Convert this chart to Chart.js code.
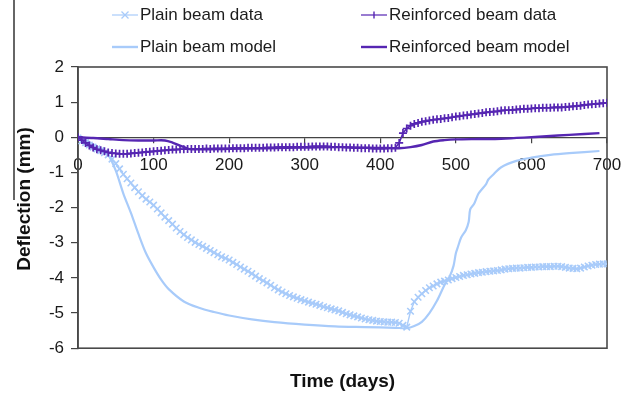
<!DOCTYPE html>
<html>
<head>
<meta charset="utf-8">
<script src="https://cdn.jsdelivr.net/npm/chart.js@4.4.1/dist/chart.umd.min.js"></script>
<style>
  html, body { margin: 0; padding: 0; background: #fff; }
  #wrap { position: relative; width: 635px; height: 397px; }
  #legend { position: absolute; left: 0; top: 0; width: 635px; height: 62px;
            font: 17px "Liberation Sans", Arial, sans-serif; color: #1c1c1c; }
  .item { position: absolute; display: flex; align-items: center; height: 20px; white-space: nowrap; }
  .item svg { margin-right: 2px; flex: none; }
</style>
</head>
<body>
<div id="wrap">
  <canvas id="c" width="635" height="397"></canvas>
  <div id="legend"></div>
</div>
<script>
// Measured mid-span deflection of the two beams over time.
const dataDays = [
  0, 5, 10, 15, 20, 25, 30, 35, 40, 45, 50, 55, 60, 65, 70, 75, 80, 85, 90, 95,
  100, 105, 110, 115, 120, 125, 130, 135, 140, 145, 150, 155, 160, 165, 170, 175, 180, 185, 190, 195,
  200, 205, 210, 215, 220, 225, 230, 235, 240, 245, 250, 255, 260, 265, 270, 275, 280, 285, 290, 295,
  300, 305, 310, 315, 320, 325, 330, 335, 340, 345, 350, 355, 360, 365, 370, 375, 380, 385, 390, 395,
  400, 405, 410, 415, 420, 425, 430, 435, 440, 445, 450, 455, 460, 465, 470, 475, 480, 485, 490, 495,
  500, 505, 510, 515, 520, 525, 530, 535, 540, 545, 550, 555, 560, 565, 570, 575, 580, 585, 590, 595,
  600, 605, 610, 615, 620, 625, 630, 635, 640, 645, 650, 655, 660, 665, 670, 675, 680, 685, 690, 695, 700
];
const plainData = [
  -0.02, -0.10, -0.15, -0.22, -0.28, -0.33, -0.38, -0.44, -0.50, -0.62, -0.75, -0.90, -1.05, -1.18, -1.30, -1.43, -1.55, -1.66, -1.76, -1.84,
  -1.93, -2.04, -2.15, -2.27, -2.37, -2.47, -2.58, -2.68, -2.77, -2.85, -2.92, -2.99, -3.05, -3.10, -3.16, -3.22, -3.28, -3.34, -3.40, -3.44,
  -3.49, -3.56, -3.62, -3.69, -3.75, -3.81, -3.88, -3.95, -4.02, -4.08, -4.14, -4.21, -4.28, -4.34, -4.40, -4.45, -4.50, -4.54, -4.58, -4.62,
  -4.65, -4.69, -4.72, -4.75, -4.78, -4.82, -4.85, -4.88, -4.91, -4.94, -4.98, -5.02, -5.05, -5.08, -5.11, -5.14, -5.17, -5.19, -5.21, -5.23,
  -5.24, -5.25, -5.26, -5.26, -5.27, -5.29, -5.35, -5.40, -4.95, -4.68, -4.55, -4.45, -4.36, -4.28, -4.23, -4.17, -4.12, -4.09, -4.06, -4.02,
  -3.99, -3.96, -3.93, -3.91, -3.89, -3.87, -3.85, -3.84, -3.82, -3.81, -3.80, -3.79, -3.77, -3.75, -3.74, -3.73, -3.72, -3.72, -3.71, -3.70,
  -3.70, -3.69, -3.69, -3.68, -3.68, -3.68, -3.67, -3.67, -3.68, -3.70, -3.72, -3.73, -3.74, -3.72, -3.69, -3.66, -3.64, -3.62, -3.61, -3.60, -3.60
];
const reinforcedData = [
  0.00, -0.08, -0.16, -0.23, -0.29, -0.34, -0.37, -0.40, -0.43, -0.45, -0.46, -0.47, -0.47, -0.47, -0.46, -0.45, -0.44, -0.43, -0.42, -0.41,
  -0.40, -0.39, -0.38, -0.37, -0.36, -0.35, -0.35, -0.34, -0.34, -0.33, -0.33, -0.33, -0.33, -0.33, -0.32, -0.33, -0.32, -0.32, -0.32, -0.32,
  -0.32, -0.31, -0.31, -0.31, -0.31, -0.30, -0.30, -0.30, -0.30, -0.30, -0.29, -0.29, -0.29, -0.28, -0.28, -0.28, -0.28, -0.28, -0.27, -0.27,
  -0.27, -0.27, -0.26, -0.26, -0.26, -0.26, -0.26, -0.27, -0.27, -0.28, -0.28, -0.29, -0.29, -0.30, -0.30, -0.31, -0.31, -0.31, -0.32, -0.32,
  -0.32, -0.32, -0.31, -0.31, -0.30, -0.16, 0.12, 0.25, 0.33, 0.38, 0.41, 0.44, 0.46, 0.48, 0.50, 0.51, 0.52, 0.54, 0.55, 0.57,
  0.59, 0.60, 0.62, 0.63, 0.65, 0.66, 0.68, 0.69, 0.71, 0.72, 0.73, 0.74, 0.76, 0.77, 0.77, 0.78, 0.79, 0.80, 0.81, 0.81,
  0.82, 0.83, 0.83, 0.84, 0.84, 0.84, 0.85, 0.85, 0.85, 0.86, 0.87, 0.88, 0.89, 0.90, 0.92, 0.93, 0.94, 0.95, 0.96, 0.97, 0.98
];

// Model predictions.
const plainModelDays = [
  0, 10, 20, 30, 40, 50, 60, 70, 80, 90, 100, 110, 120, 140, 160, 180, 200, 230, 260, 300,
  340, 380, 420, 435, 445, 455, 465, 475, 485, 492, 497, 500, 503, 507, 513, 517, 519, 524, 530, 540,
  543, 550, 560, 580, 600, 625, 650, 690
];
const plainModel = [
  0, -0.08, -0.20, -0.32, -0.50, -0.95, -1.60, -2.15, -2.75, -3.30, -3.70, -4.05, -4.32, -4.67, -4.85, -4.97, -5.07, -5.18, -5.26, -5.33,
  -5.38, -5.40, -5.42, -5.43, -5.37, -5.25, -5.00, -4.65, -4.20, -3.95, -3.65, -3.30, -3.10, -2.85, -2.65, -2.40, -2.05, -1.90, -1.60, -1.33,
  -1.20, -1.05, -0.85, -0.67, -0.58, -0.50, -0.45, -0.39
];
const reinforcedModelDays = [
  0, 20, 40, 60, 80, 100, 115, 125, 135, 145, 150, 200, 250, 300, 350, 400, 425, 440, 455, 470,
  485, 500, 530, 560, 590, 620, 650, 690
];
const reinforcedModel = [
  0, -0.02, -0.05, -0.08, -0.09, -0.09, -0.09, -0.15, -0.24, -0.32, -0.34, -0.33, -0.31, -0.29, -0.28, -0.30, -0.31, -0.28, -0.22, -0.12,
  -0.08, -0.06, -0.05, -0.04, -0.01, 0.03, 0.07, 0.12
];

const xTicks = [0, 100, 200, 300, 400, 500, 600, 700];
const yTicks = [2, 1, 0, -1, -2, -3, -4, -5, -6];

const PLAIN = 'rgb(168, 203, 250)';
const REINF = 'rgb(86, 38, 178)';
const FONT = '"Liberation Sans", Arial, sans-serif';

const pairs = (xs, ys) => xs.map((x, i) => ({ x: x, y: ys[i] }));

const datasets = [
  { label: 'Plain beam model', data: pairs(plainModelDays, plainModel),
    borderColor: PLAIN, borderWidth: 2.2, pointRadius: 0, tension: 0.3, order: 4 },
  { label: 'Plain beam data', data: pairs(dataDays, plainData),
    borderColor: PLAIN, backgroundColor: PLAIN, borderWidth: 1.4, pointStyle: 'crossRot',
    pointRadius: 4.6, pointBorderWidth: 1.6, pointBorderColor: PLAIN, order: 3 },
  { label: 'Reinforced beam model', data: pairs(reinforcedModelDays, reinforcedModel),
    borderColor: REINF, borderWidth: 2.4, pointRadius: 0, tension: 0.3, order: 2 },
  { label: 'Reinforced beam data', data: pairs(dataDays, reinforcedData),
    borderColor: REINF, backgroundColor: REINF, borderWidth: 1.6, pointStyle: 'cross',
    pointRadius: 4, pointBorderWidth: 1.7, pointBorderColor: REINF, order: 1 }
];

// Box around the plotting area, the y-axis title and a thin margin rule.
const framePlugin = {
  id: 'frame',
  beforeDatasetsDraw(chart) {
    const { ctx, chartArea: a } = chart;
    ctx.save();
    ctx.strokeStyle = '#4a4a4a';
    ctx.lineWidth = 1.6;
    ctx.strokeRect(a.left, a.top, a.right - a.left, a.bottom - a.top);
    ctx.restore();
  },
  afterDraw(chart) {
    const { ctx } = chart;
    ctx.save();
    ctx.strokeStyle = '#333';
    ctx.lineWidth = 1.5;
    ctx.beginPath();
    ctx.moveTo(14, 0);
    ctx.lineTo(14, 200);
    ctx.stroke();
    ctx.translate(25, 199);
    ctx.rotate(-Math.PI / 2);
    ctx.font = 'bold 19px ' + FONT;
    ctx.fillStyle = '#111';
    ctx.textAlign = 'center';
    ctx.textBaseline = 'middle';
    ctx.fillText('Deflection (mm)', 0, 0);
    ctx.restore();
  }
};

const chart = new Chart(document.getElementById('c'), {
  type: 'line',
  data: { datasets },
  plugins: [framePlugin],
  options: {
    responsive: false,
    animation: false,
    devicePixelRatio: 1,
    layout: { padding: { top: 67, right: 28, bottom: 0, left: 0 } },
    plugins: {
      legend: { display: false },
      tooltip: { enabled: false },
      title: {
        display: true, position: 'bottom', fullSize: false, text: 'Time (days)',
        color: '#111', font: { family: FONT, size: 19, weight: 'bold' },
        padding: { top: 22, bottom: 4 }
      }
    },
    scales: {
      x: {
        type: 'linear', position: { y: 0 }, min: 0, max: 700,
        afterBuildTicks(scale) { scale.ticks = xTicks.map(v => ({ value: v })); },
        ticks: { color: '#1a1a1a', font: { family: FONT, size: 17 }, padding: 13, maxRotation: 0 },
        grid: { drawOnChartArea: false, drawTicks: true, tickLength: 5, color: '#444', lineWidth: 1.2 },
        border: { display: true, color: '#444', width: 1.2 }
      },
      y: {
        type: 'linear', position: 'left', min: -6, max: 2,
        afterBuildTicks(scale) { scale.ticks = yTicks.map(v => ({ value: v })); },
        afterFit(scale) { scale.width = 78; },
        ticks: { color: '#1a1a1a', font: { family: FONT, size: 17 }, padding: 7 },
        grid: { drawOnChartArea: false, drawTicks: true, tickLength: 7, color: '#444', lineWidth: 1.2 },
        border: { display: true, color: '#444', width: 1.6 }
      }
    }
  }
});

// Two-column legend built from the datasets.
const legendSlots = {
  'Plain beam data': [112, 5],
  'Reinforced beam data': [361, 5],
  'Plain beam model': [112, 37],
  'Reinforced beam model': [361, 37]
};
const legend = document.getElementById('legend');
chart.data.datasets.forEach(ds => {
  const [left, top] = legendSlots[ds.label];
  const c = ds.borderColor;
  let mark = '';
  if (ds.pointStyle === 'crossRot') {
    mark = `<path d="M9.5 6.5 L16.5 13.5 M16.5 6.5 L9.5 13.5" stroke="${c}" stroke-width="1.3"/>`;
  } else if (ds.pointStyle === 'cross') {
    mark = `<path d="M13 6.5 L13 13.5" stroke="${c}" stroke-width="1.4"/>`;
  }
  const w = ds.pointRadius ? 1.2 : 2.4;
  const item = document.createElement('div');
  item.className = 'item';
  item.style.left = left + 'px';
  item.style.top = top + 'px';
  item.innerHTML = `<svg width="26" height="20"><line x1="0" y1="10" x2="26" y2="10" stroke="${c}" stroke-width="${w}"/>${mark}</svg><span>${ds.label}</span>`;
  legend.appendChild(item);
});
</script>
</body>
</html>
